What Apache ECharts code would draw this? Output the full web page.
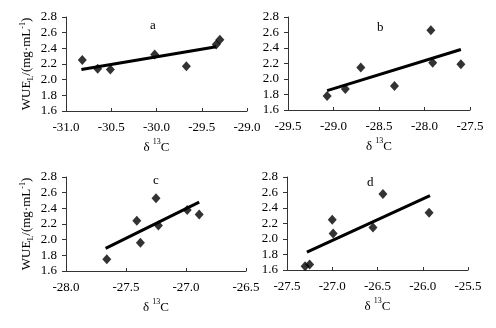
<!DOCTYPE html>
<html>
<head>
<meta charset="utf-8">
<script src="https://cdn.jsdelivr.net/npm/echarts@6/dist/echarts.min.js"></script>
<style>
  html, body { margin: 0; padding: 0; background: #fff; }
  #chart { width: 496px; height: 328px; }
</style>
</head>
<body>
<div id="chart"></div>
<script>
// values
const pointsA = [[-30.82, 2.25], [-30.65, 2.14], [-30.51, 2.13], [-30.02, 2.32], [-29.67, 2.17], [-29.34, 2.45], [-29.30, 2.51]]
const fitA = [[-30.83, 2.13], [-29.34, 2.42]]
const pointsB = [[-29.07, 1.78], [-28.87, 1.87], [-28.70, 2.15], [-28.33, 1.91], [-27.93, 2.63], [-27.91, 2.21], [-27.60, 2.19]]
const fitB = [[-29.07, 1.85], [-27.60, 2.38]]
const pointsC = [[-27.66, 1.75], [-27.41, 2.24], [-27.38, 1.96], [-27.25, 2.53], [-27.23, 2.18], [-26.99, 2.38], [-26.89, 2.32]]
const fitC = [[-27.67, 1.89], [-26.89, 2.48]]
const pointsD = [[-27.30, 1.65], [-27.25, 1.67], [-27.00, 2.25], [-26.99, 2.07], [-26.55, 2.15], [-26.44, 2.58], [-25.93, 2.34]]
const fitD = [[-27.28, 1.83], [-25.92, 2.56]]
const xRanges = [[-31, -29], [-29.5, -27.5], [-28, -26.5], [-27.5, -25.5]]
const yRange = [1.6, 2.8]
const letters = ['a', 'b', 'c', 'd']

const font = 'Liberation Serif'
const grids = [
  { left: 66, width: 181, top: 17, height: 94 },
  { left: 288, width: 182, top: 17, height: 93 },
  { left: 66, width: 180, top: 177, height: 94 },
  { left: 287, width: 181, top: 177, height: 93 },
]
const letterPos = [[150, 19], [377, 21], [153, 174], [367, 176]]
const allPoints = [pointsA, pointsB, pointsC, pointsD]
const allFits = [fitA, fitB, fitC, fitD]

const myChart = echarts.init(document.getElementById('chart'), null, { renderer: 'canvas' })

const xAxis = xRanges.map((r, i) => ({
  type: 'value',
  gridIndex: i,
  min: r[0],
  max: r[1],
  interval: 0.5,
  name: '{n|δ }{sup|13}{n|C}',
  nameLocation: 'middle',
  nameGap: 27,
  nameTextStyle: {
    rich: {
      n: { fontFamily: font, fontSize: 13, color: '#000', lineHeight: 16, verticalAlign: 'bottom' },
      sup: { fontFamily: font, fontSize: 8, color: '#000', lineHeight: 16, verticalAlign: 'top' },
    },
  },
  splitLine: { show: false },
  axisLine: { lineStyle: { color: '#333', width: 1 } },
  axisTick: { inside: true, length: 3, lineStyle: { color: '#333' } },
  axisLabel: {
    margin: 10,
    fontFamily: font,
    fontSize: 13,
    color: '#000',
    formatter: (v) => v.toFixed(1),
  },
}))

const yAxis = grids.map((g, i) => ({
  type: 'value',
  gridIndex: i,
  min: yRange[0],
  max: yRange[1],
  interval: 0.2,
  name: i % 2 === 0 ? '{n|WUE}{sub|L}{n|/(mg·mL}{sup|-1}{n|)}' : '',
  nameLocation: 'middle',
  nameRotate: 90,
  nameGap: 31,
  nameTextStyle: {
    rich: {
      n: { fontFamily: font, fontSize: 13, color: '#000', lineHeight: 16 },
      sub: { fontFamily: font, fontSize: 8, color: '#000', lineHeight: 16, verticalAlign: 'bottom' },
      sup: { fontFamily: font, fontSize: 8, color: '#000', lineHeight: 16, verticalAlign: 'top' },
    },
  },
  splitLine: { show: false },
  axisLine: { show: true, lineStyle: { color: '#333', width: 1 } },
  axisTick: { show: true, length: 4, lineStyle: { color: '#333' } },
  axisLabel: {
    margin: 9,
    fontFamily: font,
    fontSize: 13,
    color: '#000',
    formatter: (v) => v.toFixed(1),
  },
}))

const series = []
allPoints.forEach((pts, i) => {
  series.push({
    type: 'scatter',
    xAxisIndex: i,
    yAxisIndex: i,
    symbol: 'diamond',
    symbolSize: [9, 10],
    itemStyle: { color: '#000' },
    data: pts,
    z: 3,
  })
  series.push({
    type: 'line',
    xAxisIndex: i,
    yAxisIndex: i,
    showSymbol: false,
    lineStyle: { color: '#000', width: 3 },
    data: allFits[i],
    z: 2,
  })
})

myChart.setOption({
  animation: false,
  backgroundColor: '#fff',
  title: letters.map((t, i) => ({
    text: t,
    left: letterPos[i][0],
    top: letterPos[i][1],
    padding: 0,
    textStyle: { fontFamily: font, fontSize: 13, fontWeight: 'normal', color: '#000' },
  })),
  grid: grids,
  xAxis: xAxis,
  yAxis: yAxis,
  series: series,
})
</script>
</body>
</html>
